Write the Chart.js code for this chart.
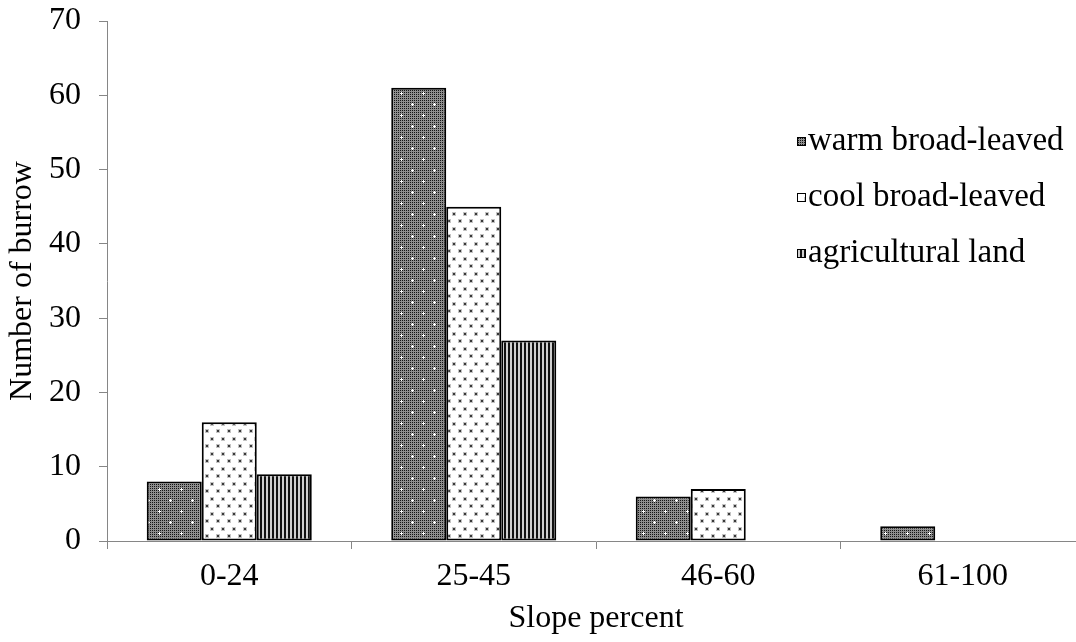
<!DOCTYPE html>
<html>
<head>
<meta charset="utf-8">
<script src="https://cdn.jsdelivr.net/npm/chart.js@4.4.1/dist/chart.umd.min.js"></script>
<style>
  html, body { margin: 0; padding: 0; background: #fff; overflow: hidden; }
  #wrap { width: 1090px; height: 642px; }
</style>
</head>
<body>
<div id="wrap"><canvas id="chart" width="1090" height="642"></canvas></div>
<script>
'use strict'

const categories = ['0-24', '25-45', '46-60', '61-100']
const seriesNames = ['warm broad-leaved', 'cool broad-leaved', 'agricultural land']
const warmValues = [8, 61, 6, 2]
const coolValues = [16, 45, 7, 0]
const agriValues = [9, 27, 0, 0]
const yTicks = [0, 10, 20, 30, 40, 50, 60, 70]

const FONT = "'Liberation Serif', 'Times New Roman', serif"
const FONT_SIZE = 32

function makeTile(w, h, draw) {
  const c = document.createElement('canvas')
  c.width = w
  c.height = h
  const ctx = c.getContext('2d')
  draw(ctx)
  return document.createElement('canvas').getContext('2d').createPattern(c, 'repeat')
}

// grey checker dots with white sparkles
const warmPattern = makeTile(22, 22, (ctx) => {
  ctx.fillStyle = '#8e8e8e'
  ctx.fillRect(0, 0, 22, 22)
  ctx.fillStyle = '#141414'
  for (let x = 0; x < 22; x += 2) {
    for (let y = 0; y < 22; y += 2) ctx.fillRect(x, y, 1, 1)
  }
  ctx.fillStyle = '#ffffff'
  for (const [cx, cy] of [[5, 5], [16, 16]]) {
    ctx.fillRect(cx, cy - 1, 1, 3)
    ctx.fillRect(cx - 1, cy, 3, 1)
  }
})

// white with soft dark dots
const coolPattern = makeTile(11, 15, (ctx) => {
  ctx.fillStyle = '#ffffff'
  ctx.fillRect(0, 0, 11, 15)
  ctx.fillStyle = '#c4c4c4'
  ctx.fillRect(1, 2, 4, 4)
  ctx.fillRect(7, 9, 4, 4)
  ctx.fillStyle = '#3a3a3a'
  ctx.fillRect(2, 3, 2, 2)
  ctx.fillRect(8, 10, 2, 2)
})

// vertical stripes
const agriPattern = makeTile(4, 4, (ctx) => {
  ctx.fillStyle = '#cfcfcf'
  ctx.fillRect(0, 0, 4, 4)
  ctx.fillStyle = '#111111'
  ctx.fillRect(0, 0, 2, 4)
})

const legendPlugin = {
  id: 'sideLegend',
  afterDraw(chart) {
    const ctx = chart.ctx
    const baselines = [150, 206, 262]
    ctx.save()
    ctx.font = '33px ' + FONT
    ctx.textBaseline = 'alphabetic'
    chart.data.datasets.forEach((ds, i) => {
      const y = baselines[i]
      ctx.fillStyle = ds.backgroundColor
      ctx.fillRect(797, y - 13, 9, 9)
      ctx.strokeStyle = '#000'
      ctx.lineWidth = 1
      ctx.strokeRect(797.5, y - 12.5, 8, 8)
      ctx.fillStyle = '#000'
      ctx.fillText(ds.label, 808, y)
    })
    ctx.restore()
  },
}

const axisGrey = '#868686'

new Chart(document.getElementById('chart'), {
  type: 'bar',
  data: {
    labels: categories,
    datasets: [
      { label: seriesNames[0], data: warmValues, backgroundColor: warmPattern },
      { label: seriesNames[1], data: coolValues, backgroundColor: coolPattern },
      { label: seriesNames[2], data: agriValues, backgroundColor: agriPattern },
    ].map((d) => Object.assign(d, {
      borderColor: '#000',
      borderWidth: 2,
      borderSkipped: false,
      barPercentage: 1,
      categoryPercentage: 0.675,
    })),
  },
  options: {
    responsive: false,
    animation: false,
    layout: { padding: { top: 21, left: 0, right: 5, bottom: 0 } },
    plugins: {
      legend: { display: false },
      tooltip: { enabled: false },
    },
    scales: {
      x: {
        grid: {
          drawOnChartArea: false,
          drawTicks: true,
          tickLength: 8,
          color: axisGrey,
          offset: true,
        },
        border: { color: axisGrey, width: 1 },
        ticks: {
          color: '#000',
          font: { family: FONT, size: FONT_SIZE },
          padding: 8,
          maxRotation: 0,
        },
        title: {
          display: true,
          text: 'Slope percent',
          color: '#000',
          font: { family: FONT, size: FONT_SIZE },
          padding: { top: 0, bottom: 4 },
        },
        afterFit(scale) {
          scale.height = 101
          scale.paddingLeft = 0
          scale.paddingRight = 0
        },
      },
      y: {
        min: 0,
        max: 70,
        afterBuildTicks(scale) { scale.ticks = yTicks.map((v) => ({ value: v })) },
        grid: {
          drawOnChartArea: false,
          drawTicks: true,
          tickLength: 8,
          color: axisGrey,
        },
        border: { color: axisGrey, width: 1 },
        ticks: {
          color: '#000',
          font: { family: FONT, size: FONT_SIZE },
          padding: 18,
        },
        title: {
          display: true,
          text: 'Number of burrow',
          color: '#000',
          font: { family: FONT, size: FONT_SIZE },
          padding: { top: 3, bottom: 0 },
        },
        afterFit(scale) {
          scale.width = 107
          scale.paddingTop = 0
          scale.paddingBottom = 0
        },
      },
    },
  },
  plugins: [legendPlugin],
})
</script>
</body>
</html>
